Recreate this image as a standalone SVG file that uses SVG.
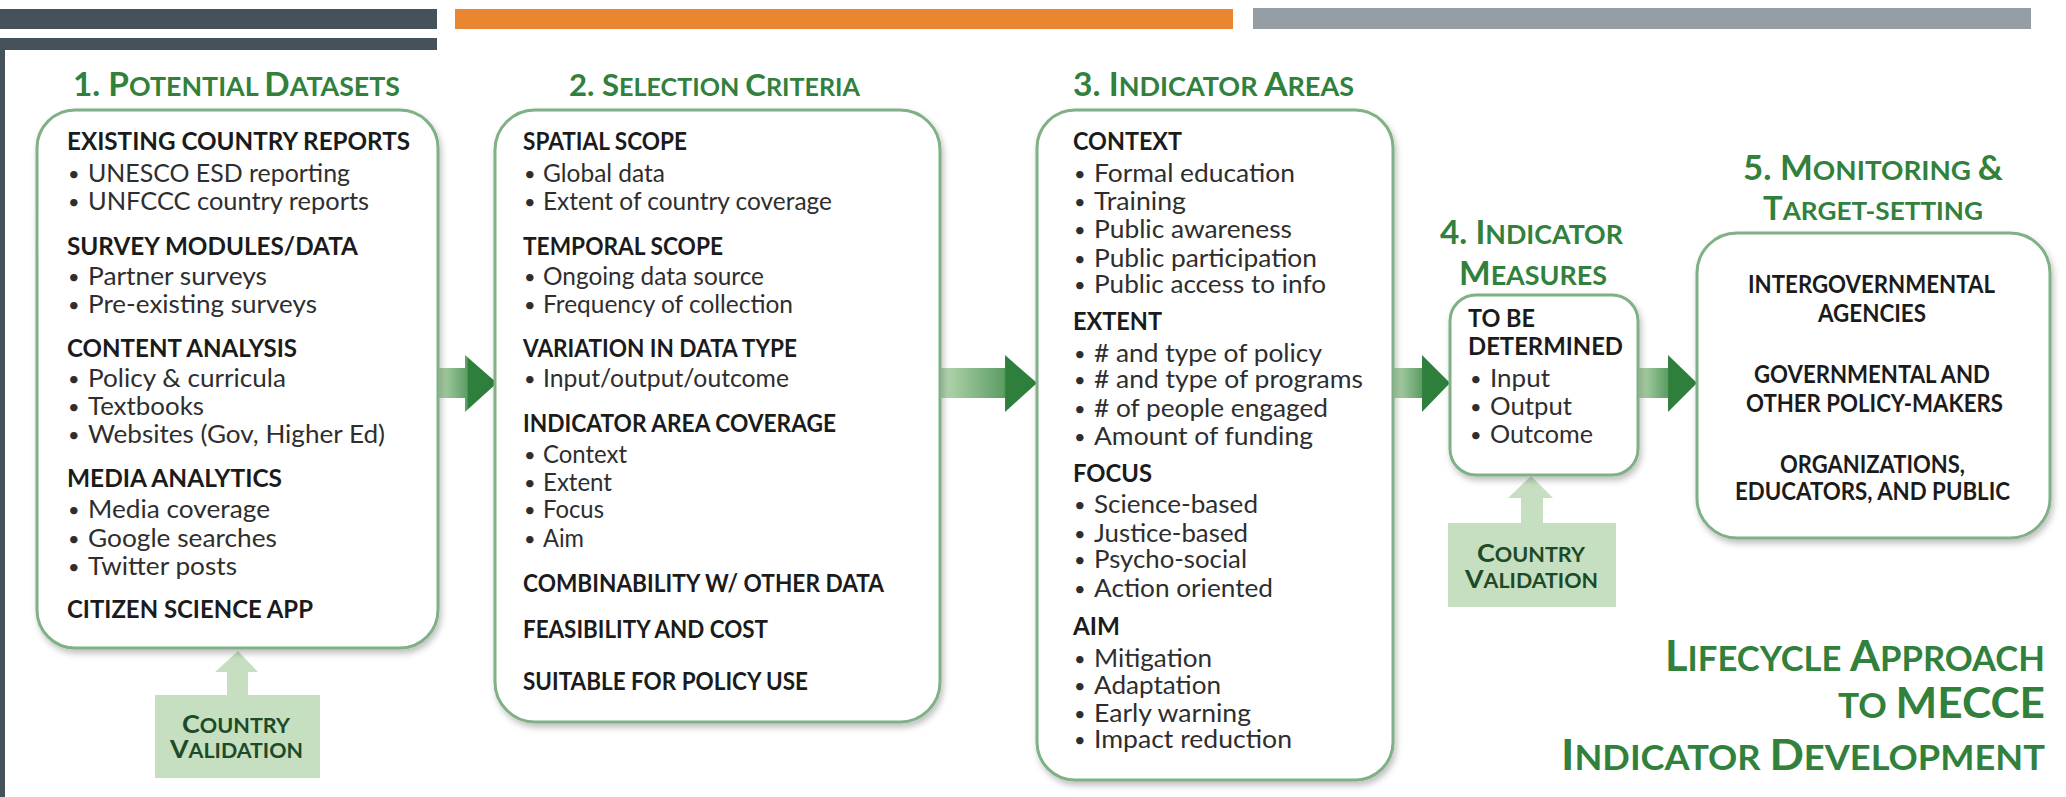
<svg xmlns="http://www.w3.org/2000/svg" width="2066" height="797" viewBox="0 0 2066 797">
<style>
text{font-family:Lato,"Open Sans","Liberation Sans",sans-serif}
.t{font-weight:700;fill:#31813d;font-size:33px}
.t .s{font-size:26.5px}
.bt{font-weight:700;fill:#31813d;font-size:42.5px}
.bt .s{font-size:34px}
.h{font-weight:700;font-size:25px;fill:#1b1b1b}
.b{font-weight:400;font-size:25px;fill:#2e2e2e}
.d{font-weight:400;font-size:20px;fill:#2e2e2e}
.p5{font-weight:700;font-size:24px;fill:#1b1b1b}
.cv{font-weight:700;font-size:25px;fill:#1d4a27}
.cv .s{font-size:20px}
.box{fill:#fff;stroke:#80b085;stroke-width:3}
.val{fill:#c5dfc0}
</style>
<defs>
<filter id="sh" x="-5%" y="-5%" width="110%" height="115%">
<feDropShadow dx="2" dy="4" stdDeviation="3" flood-color="#000" flood-opacity="0.25"/>
</filter>
<linearGradient id="ag" x1="0" y1="0" x2="1" y2="0">
<stop offset="0" stop-color="#b9d9b3"/>
<stop offset="0.5" stop-color="#5d9d64"/>
<stop offset="0.52" stop-color="#2f7f3c"/>
<stop offset="1" stop-color="#2f7f3c"/>
</linearGradient>
<linearGradient id="ag2" x1="0" y1="0" x2="1" y2="0">
<stop offset="0" stop-color="#b9d9b3"/>
<stop offset="0.66" stop-color="#5d9d64"/>
<stop offset="0.68" stop-color="#2f7f3c"/>
<stop offset="1" stop-color="#2f7f3c"/>
</linearGradient>
</defs>
<rect width="2066" height="797" fill="#fff"/>
<g id="frame">
<rect x="0" y="9" width="437" height="20" fill="#45525a"/>
<rect x="0" y="38" width="437" height="12" fill="#45525a"/>
<rect x="0" y="38" width="5" height="759" fill="#45525a"/>
<rect x="455" y="9" width="778" height="20" fill="#ea8530"/>
<rect x="1253" y="8" width="778" height="21" fill="#959da5"/>
</g>
<g id="connectors">
<path d="M437,368 H465 V355 L497,383 L465,412 V398 H437 Z" fill="url(#ag)"/>
<path d="M940,368 H1005 V355 L1037,383 L1005,412 V398 H940 Z" fill="url(#ag2)"/>
<path d="M1393,368 H1422 V355 L1450,383 L1422,412 V398 H1393 Z" fill="url(#ag)"/>
<path d="M1638,368 H1668 V355 L1697,383 L1668,412 V398 H1638 Z" fill="url(#ag)"/>
<path d="M238,651 L258,672 H248 V695 H227 V672 H215 Z" class="val"/>
<path d="M1531,476 L1553,498 H1543 V523 H1521 V498 H1508 Z" class="val"/>
</g>
<g id="panel1">
<text class="t" x="73" y="96" textLength="327" lengthAdjust="spacingAndGlyphs">1. P<tspan class="s">OTENTIAL </tspan>D<tspan class="s">ATASETS</tspan></text>
<rect class="box" x="37" y="110" width="401" height="538" rx="38" filter="url(#sh)"/>
<text class="h" x="67" y="150" textLength="343" lengthAdjust="spacingAndGlyphs">EXISTING COUNTRY REPORTS</text>
<text class="d" x="68" y="181">•</text><text class="b" x="88" y="182" textLength="262" lengthAdjust="spacingAndGlyphs">UNESCO ESD reporting</text>
<text class="d" x="68" y="209">•</text><text class="b" x="88" y="210" textLength="281" lengthAdjust="spacingAndGlyphs">UNFCCC country reports</text>
<text class="h" x="67" y="255" textLength="291" lengthAdjust="spacingAndGlyphs">SURVEY MODULES/DATA</text>
<text class="d" x="68" y="284">•</text><text class="b" x="88" y="285" textLength="179" lengthAdjust="spacingAndGlyphs">Partner surveys</text>
<text class="d" x="68" y="312">•</text><text class="b" x="88" y="313" textLength="229" lengthAdjust="spacingAndGlyphs">Pre-existing surveys</text>
<text class="h" x="67" y="357" textLength="230" lengthAdjust="spacingAndGlyphs">CONTENT ANALYSIS</text>
<text class="d" x="68" y="386">•</text><text class="b" x="88" y="387" textLength="198" lengthAdjust="spacingAndGlyphs">Policy &amp; curricula</text>
<text class="d" x="68" y="414">•</text><text class="b" x="88" y="415" textLength="116" lengthAdjust="spacingAndGlyphs">Textbooks</text>
<text class="d" x="68" y="442">•</text><text class="b" x="88" y="443" textLength="297" lengthAdjust="spacingAndGlyphs">Websites (Gov, Higher Ed)</text>
<text class="h" x="67" y="487" textLength="215" lengthAdjust="spacingAndGlyphs">MEDIA ANALYTICS</text>
<text class="d" x="68" y="517">•</text><text class="b" x="88" y="518" textLength="182" lengthAdjust="spacingAndGlyphs">Media coverage</text>
<text class="d" x="68" y="546">•</text><text class="b" x="88" y="547" textLength="189" lengthAdjust="spacingAndGlyphs">Google searches</text>
<text class="d" x="68" y="574">•</text><text class="b" x="88" y="575" textLength="149" lengthAdjust="spacingAndGlyphs">Twitter posts</text>
<text class="h" x="67" y="618" textLength="246" lengthAdjust="spacingAndGlyphs">CITIZEN SCIENCE APP</text>
</g>
<g id="validation1">
<rect class="val" x="155" y="695" width="165" height="83"/>
<text class="cv" x="182" y="733" textLength="108" lengthAdjust="spacingAndGlyphs">C<tspan class="s">OUNTRY</tspan></text>
<text class="cv" x="170" y="758" textLength="133" lengthAdjust="spacingAndGlyphs">V<tspan class="s">ALIDATION</tspan></text>
</g>
<g id="panel2">
<text class="t" x="569" y="96" textLength="291" lengthAdjust="spacingAndGlyphs" style="font-size:31px">2. S<tspan style="font-size:25px">ELECTION </tspan>C<tspan style="font-size:25px">RITERIA</tspan></text>
<rect class="box" x="495" y="110" width="445" height="612" rx="40" filter="url(#sh)"/>
<text class="h" x="523" y="150" textLength="164" lengthAdjust="spacingAndGlyphs">SPATIAL SCOPE</text>
<text class="d" x="524" y="181">•</text><text class="b" x="543" y="182" textLength="122" lengthAdjust="spacingAndGlyphs">Global data</text>
<text class="d" x="524" y="209">•</text><text class="b" x="543" y="210" textLength="289" lengthAdjust="spacingAndGlyphs">Extent of country coverage</text>
<text class="h" x="523" y="255" textLength="200" lengthAdjust="spacingAndGlyphs">TEMPORAL SCOPE</text>
<text class="d" x="524" y="284">•</text><text class="b" x="543" y="285" textLength="221" lengthAdjust="spacingAndGlyphs">Ongoing data source</text>
<text class="d" x="524" y="312">•</text><text class="b" x="543" y="313" textLength="250" lengthAdjust="spacingAndGlyphs">Frequency of collection</text>
<text class="h" x="523" y="357" textLength="274" lengthAdjust="spacingAndGlyphs">VARIATION IN DATA TYPE</text>
<text class="d" x="524" y="386">•</text><text class="b" x="543" y="387" textLength="246" lengthAdjust="spacingAndGlyphs">Input/output/outcome</text>
<text class="h" x="523" y="432" textLength="313" lengthAdjust="spacingAndGlyphs">INDICATOR AREA COVERAGE</text>
<text class="d" x="524" y="462">•</text><text class="b" x="543" y="463" textLength="84" lengthAdjust="spacingAndGlyphs">Context</text>
<text class="d" x="524" y="490">•</text><text class="b" x="543" y="491" textLength="69" lengthAdjust="spacingAndGlyphs">Extent</text>
<text class="d" x="524" y="517">•</text><text class="b" x="543" y="518" textLength="61" lengthAdjust="spacingAndGlyphs">Focus</text>
<text class="d" x="524" y="546">•</text><text class="b" x="543" y="547" textLength="41" lengthAdjust="spacingAndGlyphs">Aim</text>
<text class="h" x="523" y="592" textLength="361" lengthAdjust="spacingAndGlyphs">COMBINABILITY W/ OTHER DATA</text>
<text class="h" x="523" y="638" textLength="245" lengthAdjust="spacingAndGlyphs">FEASIBILITY AND COST</text>
<text class="h" x="523" y="690" textLength="285" lengthAdjust="spacingAndGlyphs">SUITABLE FOR POLICY USE</text>
</g>
<g id="panel3">
<text class="t" x="1073" y="96" textLength="281" lengthAdjust="spacingAndGlyphs">3. I<tspan class="s">NDICATOR </tspan>A<tspan class="s">REAS</tspan></text>
<rect class="box" x="1037" y="110" width="356" height="670" rx="38" filter="url(#sh)"/>
<text class="h" x="1073" y="150" textLength="109" lengthAdjust="spacingAndGlyphs">CONTEXT</text>
<text class="d" x="1074" y="181">•</text><text class="b" x="1094" y="182" textLength="201" lengthAdjust="spacingAndGlyphs">Formal education</text>
<text class="d" x="1074" y="209">•</text><text class="b" x="1094" y="210" textLength="92" lengthAdjust="spacingAndGlyphs">Training</text>
<text class="d" x="1074" y="237">•</text><text class="b" x="1094" y="238" textLength="198" lengthAdjust="spacingAndGlyphs">Public awareness</text>
<text class="d" x="1074" y="266">•</text><text class="b" x="1094" y="267" textLength="223" lengthAdjust="spacingAndGlyphs">Public participation</text>
<text class="d" x="1074" y="292">•</text><text class="b" x="1094" y="293" textLength="232" lengthAdjust="spacingAndGlyphs">Public access to info</text>
<text class="h" x="1073" y="330" textLength="89" lengthAdjust="spacingAndGlyphs">EXTENT</text>
<text class="d" x="1074" y="361">•</text><text class="b" x="1094" y="362" textLength="228" lengthAdjust="spacingAndGlyphs"># and type of policy</text>
<text class="d" x="1074" y="387">•</text><text class="b" x="1094" y="388" textLength="269" lengthAdjust="spacingAndGlyphs"># and type of programs</text>
<text class="d" x="1074" y="416">•</text><text class="b" x="1094" y="417" textLength="234" lengthAdjust="spacingAndGlyphs"># of people engaged</text>
<text class="d" x="1074" y="444">•</text><text class="b" x="1094" y="445" textLength="219" lengthAdjust="spacingAndGlyphs">Amount of funding</text>
<text class="h" x="1073" y="482" textLength="79" lengthAdjust="spacingAndGlyphs">FOCUS</text>
<text class="d" x="1074" y="512">•</text><text class="b" x="1094" y="513" textLength="164" lengthAdjust="spacingAndGlyphs">Science-based</text>
<text class="d" x="1074" y="541">•</text><text class="b" x="1094" y="542" textLength="154" lengthAdjust="spacingAndGlyphs">Justice-based</text>
<text class="d" x="1074" y="567">•</text><text class="b" x="1094" y="568" textLength="153" lengthAdjust="spacingAndGlyphs">Psycho-social</text>
<text class="d" x="1074" y="596">•</text><text class="b" x="1094" y="597" textLength="179" lengthAdjust="spacingAndGlyphs">Action oriented</text>
<text class="h" x="1073" y="635" textLength="47" lengthAdjust="spacingAndGlyphs">AIM</text>
<text class="d" x="1074" y="666">•</text><text class="b" x="1094" y="667" textLength="118" lengthAdjust="spacingAndGlyphs">Mitigation</text>
<text class="d" x="1074" y="693">•</text><text class="b" x="1094" y="694" textLength="127" lengthAdjust="spacingAndGlyphs">Adaptation</text>
<text class="d" x="1074" y="721">•</text><text class="b" x="1094" y="722" textLength="157" lengthAdjust="spacingAndGlyphs">Early warning</text>
<text class="d" x="1074" y="747">•</text><text class="b" x="1094" y="748" textLength="198" lengthAdjust="spacingAndGlyphs">Impact reduction</text>
</g>
<g id="panel4">
<text class="t" x="1440" y="243.5" textLength="183" lengthAdjust="spacingAndGlyphs">4. I<tspan class="s">NDICATOR</tspan></text>
<text class="t" x="1459" y="284.5" textLength="148" lengthAdjust="spacingAndGlyphs">M<tspan class="s">EASURES</tspan></text>
<rect class="box" x="1450" y="295" width="188" height="180" rx="26" filter="url(#sh)"/>
<text class="h" x="1468" y="327" textLength="67" lengthAdjust="spacingAndGlyphs">TO BE</text>
<text class="h" x="1468" y="355" textLength="155" lengthAdjust="spacingAndGlyphs">DETERMINED</text>
<text class="d" x="1470" y="386">•</text><text class="b" x="1490" y="387" textLength="60" lengthAdjust="spacingAndGlyphs">Input</text>
<text class="d" x="1470" y="414">•</text><text class="b" x="1490" y="415" textLength="82" lengthAdjust="spacingAndGlyphs">Output</text>
<text class="d" x="1470" y="442">•</text><text class="b" x="1490" y="443" textLength="103" lengthAdjust="spacingAndGlyphs">Outcome</text>
</g>
<g id="validation4">
<rect class="val" x="1448" y="523" width="168" height="84"/>
<text class="cv" x="1477" y="562" textLength="108" lengthAdjust="spacingAndGlyphs">C<tspan class="s">OUNTRY</tspan></text>
<text class="cv" x="1465" y="588" textLength="133" lengthAdjust="spacingAndGlyphs">V<tspan class="s">ALIDATION</tspan></text>
</g>
<g id="panel5">
<text class="t" x="1743" y="180" textLength="260" lengthAdjust="spacingAndGlyphs" style="font-size:34.5px">5. M<tspan style="font-size:27.5px">ONITORING </tspan>&amp;</text>
<text class="t" x="1763" y="220" textLength="220" lengthAdjust="spacingAndGlyphs" style="font-size:32px">T<tspan style="font-size:25.5px">ARGET-SETTING</tspan></text>
<rect class="box" x="1697" y="233" width="353" height="305" rx="40" filter="url(#sh)"/>
<text class="p5" x="1748" y="293" textLength="247" lengthAdjust="spacingAndGlyphs">INTERGOVERNMENTAL</text>
<text class="p5" x="1818" y="322" textLength="108" lengthAdjust="spacingAndGlyphs">AGENCIES</text>
<text class="p5" x="1754" y="383" textLength="236" lengthAdjust="spacingAndGlyphs">GOVERNMENTAL AND</text>
<text class="p5" x="1746" y="412" textLength="257" lengthAdjust="spacingAndGlyphs">OTHER POLICY-MAKERS</text>
<text class="p5" x="1780" y="473" textLength="185" lengthAdjust="spacingAndGlyphs">ORGANIZATIONS,</text>
<text class="p5" x="1735" y="500" textLength="275" lengthAdjust="spacingAndGlyphs">EDUCATORS, AND PUBLIC</text>
</g>
<g id="caption">
<text class="bt" x="1665" y="671" textLength="380" lengthAdjust="spacingAndGlyphs">L<tspan class="s">IFECYCLE </tspan>A<tspan class="s">PPROACH</tspan></text>
<text class="bt" x="1838" y="718" textLength="207" lengthAdjust="spacingAndGlyphs"><tspan class="s">TO </tspan>MECCE</text>
<text class="bt" x="1561" y="770" textLength="484" lengthAdjust="spacingAndGlyphs">I<tspan class="s">NDICATOR </tspan>D<tspan class="s">EVELOPMENT</tspan></text>
</g>
</svg>
